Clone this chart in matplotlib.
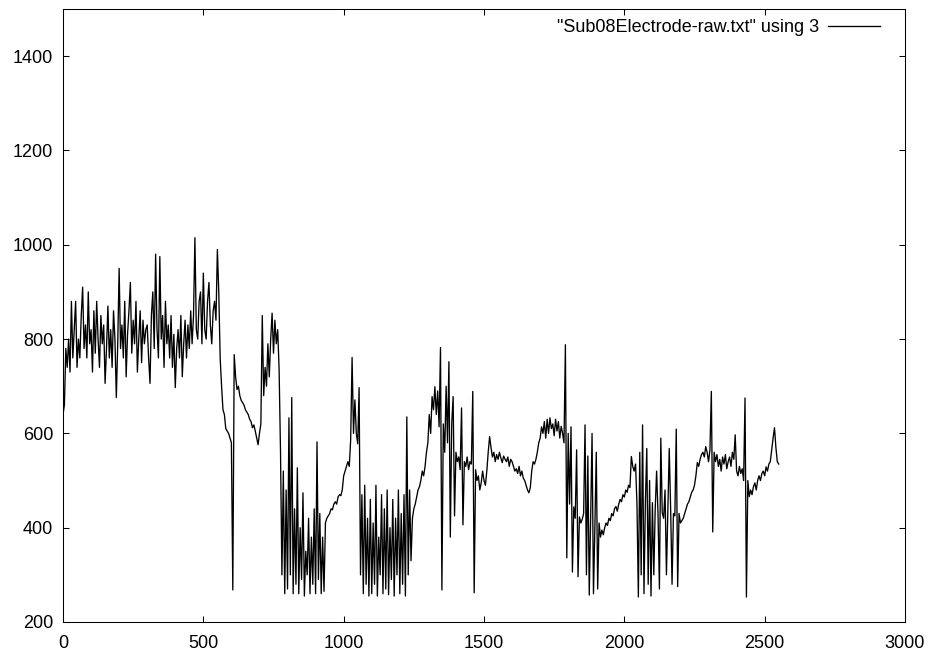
import numpy as np
import matplotlib
matplotlib.use("Agg")
import matplotlib.pyplot as plt

plt.rcParams['font.family'] = ['Liberation Sans', 'DejaVu Sans']

# column 3 of Sub08Electrode-raw.txt, sampled every 5 rows
sample_step = 5
values = [
    640, 660, 780, 740, 800, 730, 880, 760, 820, 880, 740, 800, 760, 850, 910, 780, 830, 760, 900, 790,
    820, 730, 860, 770, 880, 800, 740, 850, 790, 830, 706, 780, 870, 760, 820, 740, 860, 800, 676, 790,
    950, 780, 830, 760, 880, 720, 810, 860, 920, 770, 840, 790, 880, 730, 800, 860, 750, 840, 790, 820,
    830, 760, 706, 850, 900, 780, 980, 820, 760, 975, 800, 850, 740, 880, 790, 830, 760, 850, 740, 810,
    697, 780, 820, 760, 850, 720, 790, 840, 760, 830, 780, 860, 790, 850, 1015, 820, 800, 880, 900, 790,
    940, 820, 800, 880, 920, 830, 790, 860, 880, 840, 990, 900, 760, 700, 650, 640, 610, 605, 600, 590,
    580, 268, 767, 720, 693, 700, 680, 670, 665, 660, 650, 645, 640, 630, 625, 612, 618, 605, 590, 576,
    600, 620, 850, 680, 740, 700, 790, 720, 800, 855, 770, 840, 790, 820, 735, 560, 300, 520, 260, 480,
    270, 633, 300, 676, 260, 440, 280, 527, 260, 400, 290, 474, 255, 350, 300, 420, 260, 380, 280, 440,
    260, 582, 290, 430, 260, 380, 265, 410, 420, 425, 430, 440, 438, 450, 455, 450, 465, 470, 468, 480,
    510, 520, 530, 540, 530, 587, 761, 600, 671, 601, 578, 697, 300, 470, 260, 490, 280, 420, 255, 460,
    260, 410, 280, 490, 255, 380, 300, 470, 260, 440, 270, 480, 258, 400, 290, 460, 255, 420, 300, 480,
    260, 430, 280, 470, 255, 635, 300, 480, 330, 420, 440, 450, 465, 480, 487, 500, 520, 510, 530, 560,
    580, 640, 600, 678, 650, 699, 640, 690, 614, 782, 268, 620, 560, 700, 580, 752, 380, 620, 678, 425,
    560, 540, 550, 523, 654, 406, 540, 530, 550, 523, 540, 535, 689, 262, 523, 500, 510, 480, 495, 520,
    500, 490, 520, 560, 593, 570, 550, 560, 540, 555, 545, 560, 548, 538, 552, 545, 540, 550, 530, 545,
    540, 530, 520, 525, 515, 530, 510, 520, 505, 500, 490, 480, 474, 485, 520, 540, 535, 545, 560, 580,
    590, 614, 600, 625, 590, 630, 600, 633, 610, 620, 595, 630, 605, 625, 590, 615, 600, 580, 788, 336,
    600, 450, 614, 306, 444, 420, 565, 296, 423, 410, 418, 430, 618, 300, 552, 257, 420, 600, 260, 400,
    560, 270, 410, 380, 395, 385, 400, 410, 405, 420, 415, 430, 425, 440, 445, 435, 450, 460, 455, 470,
    465, 480, 475, 490, 485, 551, 530, 520, 535, 450, 253, 560, 300, 618, 260, 453, 568, 280, 500, 255,
    453, 300, 440, 520, 430, 270, 590, 432, 420, 480, 300, 430, 568, 440, 280, 430, 425, 609, 275, 430,
    410, 415, 420, 430, 440, 450, 455, 465, 475, 480, 490, 510, 538, 530, 545, 555, 560, 550, 572, 560,
    540, 565, 689, 391, 560, 540, 555, 530, 545, 520, 550, 535, 555, 525, 540, 550, 530, 560, 545, 597,
    520, 510, 530, 515, 525, 500, 675, 253, 500, 466, 480, 470, 487, 495, 480, 500, 510, 500, 515, 520,
    510, 529, 520, 535, 540, 565, 590, 612, 570, 540, 535,
]
label = '"Sub08Electrode-raw.txt" using 3'
xticks = [0, 500, 1000, 1500, 2000, 2500, 3000]
yticks = [200, 400, 600, 800, 1000, 1200, 1400]

x = np.arange(len(values)) * sample_step

W, H = 931, 652
L, R, T, B = 63, 905, 9, 622
fig = plt.figure(figsize=(W/100, H/100), dpi=100)
ax = fig.add_axes([L/W, (H-B)/H, (R-L)/W, (B-T)/H])
ax.plot(x, values, color='black', lw=0.95, label=label)

ax.set_xlim(0, 3000)
ax.set_ylim(200, 1500)
ax.set_xticks(xticks)
ax.set_yticks(yticks)
ax.tick_params(direction='in', length=4.5, width=0.75, top=True, right=True,
               labelsize=13, pad=7)
ax.tick_params(axis='x', pad=9)
for s in ax.spines.values():
    s.set_linewidth(0.75)

ax.legend(loc='upper right', frameon=False, markerfirst=False,
          handlelength=2.9, handletextpad=0.45, fontsize=13,
          borderaxespad=0, borderpad=0,
          bbox_to_anchor=((880-L)/(R-L), (B-19)/(B-T)))

fig.savefig('out.png', dpi=100)
